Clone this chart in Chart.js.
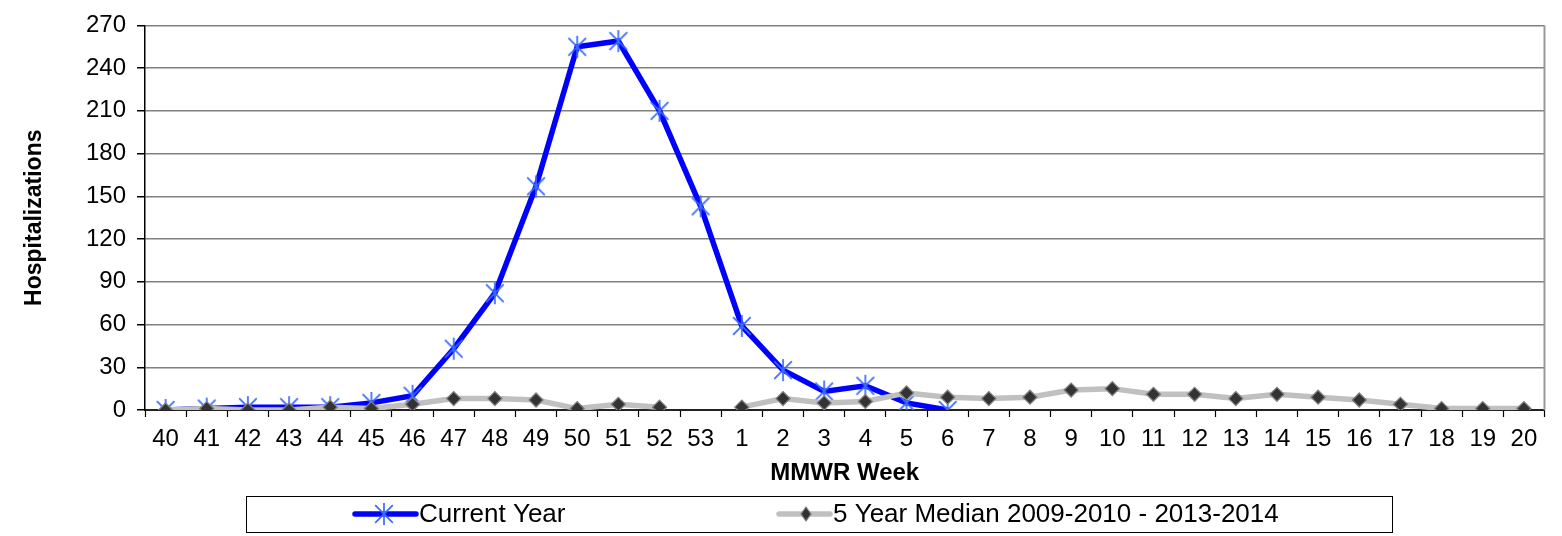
<!DOCTYPE html>
<html>
<head>
<meta charset="utf-8">
<script src="https://cdn.jsdelivr.net/npm/chart.js@4.4.1/dist/chart.umd.min.js"></script>
<style>
  html, body { margin: 0; padding: 0; background: #ffffff; }
  #wrap { width: 1562px; height: 536px; position: relative; }
</style>
</head>
<body>
<div id="wrap"><canvas id="c"></canvas></div>
<script>
// ---- data ----
const weeks = ['40','41','42','43','44','45','46','47','48','49','50','51','52','53',
               '1','2','3','4','5','6','7','8','9','10','11','12','13','14','15','16','17','18','19','20'];
const currentYear = [0,1,2,2,2,5,10,43,82,157,255,259,210,143,
                     59,28,13,17,5,0,null,null,null,null,null,null,null,null,null,null,null,null,null,null];
const fiveYearMedian = [0,1,0,0,2,1,4,8,8,7,1,4,2,null,
                        2,8,5,6,12,9,8,9,14,15,11,11,8,11,9,7,4,1,1,1];
const yTicks = { min: 0, max: 270, step: 30 };
const seriesLabels = ['Current Year', '5 Year Median 2009-2010 - 2013-2014'];

const FONT = "'Liberation Sans', Arial, Helvetica, sans-serif";

// star marker (Excel style: X plus vertical bar)
function makeStar(size, color) {
  const c = document.createElement('canvas');
  c.width = size; c.height = size;
  const g = c.getContext('2d');
  g.strokeStyle = color; g.lineWidth = 1.7; g.lineCap = 'butt';
  const m = size / 2, r = size / 2 - 1;
  const d = r * 0.8;
  g.beginPath();
  g.moveTo(m - d, m - d); g.lineTo(m + d, m + d);
  g.moveTo(m + d, m - d); g.lineTo(m - d, m + d);
  g.moveTo(m, m - r); g.lineTo(m, m + r);
  g.stroke();
  return c;
}
const starImg = makeStar(24, '#3a6bff');

const frame = {
  id: 'frame',
  afterDraw(chart) {
    const { ctx, chartArea: a } = chart;
    ctx.save();
    ctx.strokeStyle = '#999999';
    ctx.lineWidth = 2;
    ctx.beginPath();
    ctx.moveTo(a.right, a.top);
    ctx.lineTo(a.right, a.bottom);
    ctx.stroke();
    ctx.restore();
  }
};

const legendBox = {
  id: 'legendBox',
  afterDraw(chart) {
    const ctx = chart.ctx;
    const bx = 246, by = 496, bw = 1146, bh = 36;
    const cy = by + bh / 2;
    ctx.save();
    ctx.strokeStyle = '#000000';
    ctx.lineWidth = 1;
    ctx.strokeRect(bx + 0.5, by + 0.5, bw, bh);
    ctx.font = '26px ' + FONT;
    ctx.fillStyle = '#000000';
    ctx.textBaseline = 'middle';
    ctx.textAlign = 'left';
    // item 1
    ctx.strokeStyle = '#0000ff';
    ctx.lineWidth = 5.5;
    ctx.lineCap = 'round';
    ctx.beginPath(); ctx.moveTo(355, cy); ctx.lineTo(416, cy); ctx.stroke();
    ctx.drawImage(starImg, 384 - 12, cy - 12);
    ctx.fillText(chart.data.datasets[0].label, 419, cy + 1);
    // item 2
    ctx.strokeStyle = '#c0c0c0';
    ctx.lineWidth = 5.5;
    ctx.beginPath(); ctx.moveTo(779, cy); ctx.lineTo(830, cy); ctx.stroke();
    ctx.beginPath();
    ctx.moveTo(806, cy - 7); ctx.lineTo(811, cy); ctx.lineTo(806, cy + 7); ctx.lineTo(801, cy); ctx.closePath();
    ctx.fillStyle = '#333333'; ctx.fill();
    ctx.strokeStyle = '#808080'; ctx.lineWidth = 1.2; ctx.stroke();
    ctx.fillStyle = '#000000';
    ctx.fillText(chart.data.datasets[1].label, 833, cy + 1);
    ctx.restore();
  }
};

new Chart(document.getElementById('c'), {
  type: 'line',
  data: {
    labels: weeks,
    datasets: [
      {
        label: seriesLabels[0],
        data: currentYear,
        borderColor: '#0000ff',
        backgroundColor: '#3a6bff',
        borderWidth: 5.5,
        tension: 0,
        pointStyle: starImg,
        pointRadius: 12,
        spanGaps: false,
        order: 2
      },
      {
        label: seriesLabels[1],
        data: fiveYearMedian,
        borderColor: '#c0c0c0',
        backgroundColor: '#333333',
        pointBorderColor: '#808080',
        pointBackgroundColor: '#333333',
        borderWidth: 5.5,
        tension: 0,
        pointStyle: 'rectRot',
        pointRadius: 7,
        pointBorderWidth: 1.3,
        spanGaps: false,
        order: 1
      }
    ]
  },
  options: {
    responsive: true,
    maintainAspectRatio: false,
    animation: false,
    devicePixelRatio: 1,
    layout: { padding: { left: 0, right: 10, top: 22, bottom: 46 } },
    plugins: {
      legend: { display: false },
      tooltip: { enabled: false }
    },
    scales: {
      x: {
        type: 'category',
        offset: true,
        grid: {
          offset: true,
          drawOnChartArea: false,
          drawTicks: true,
          tickLength: 7,
          tickColor: '#000000',
          tickWidth: 1.2
        },
        border: { color: '#222222', width: 2 },
        ticks: {
          color: '#000000',
          font: { family: FONT, size: 24 },
          padding: 8,
          maxRotation: 0,
          autoSkip: false
        },
        title: {
          display: true,
          text: 'MMWR Week',
          color: '#000000',
          font: { family: FONT, size: 24, weight: 'bold' },
          padding: { top: 0, bottom: 2 }
        },
        afterFit(scale) { scale.height = 80; }
      },
      y: {
        min: yTicks.min,
        max: yTicks.max,
        ticks: {
          stepSize: yTicks.step,
          color: '#000000',
          font: { family: FONT, size: 24 },
          padding: 11
        },
        grid: {
          color: '#808080',
          lineWidth: 1.5,
          tickLength: 8,
          tickColor: '#000000'
        },
        border: { color: '#000000', width: 1.5 },
        title: {
          display: true,
          text: 'Hospitalizations',
          color: '#000000',
          font: { family: FONT, size: 23, weight: 'bold' },
          padding: { top: 21, bottom: 0 }
        },
        afterFit(scale) { scale.width = 145; }
      }
    }
  },
  plugins: [frame, legendBox]
});
</script>
</body>
</html>
